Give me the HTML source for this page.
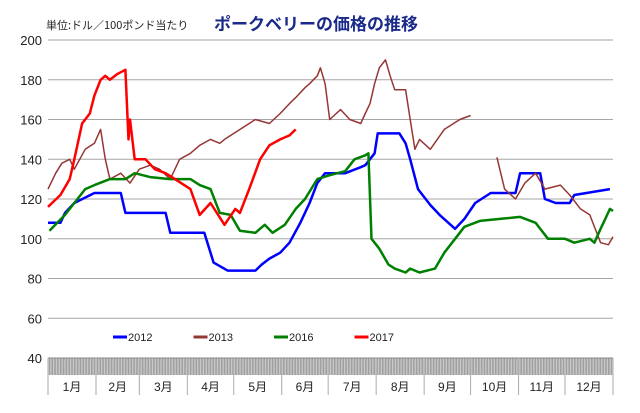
<!DOCTYPE html>
<html><head><meta charset="utf-8"><style>
body{margin:0;background:#fff;width:640px;height:408px;overflow:hidden;font-family:"Liberation Sans","Noto Sans CJK JP",sans-serif}
</style></head><body>
<svg id="chart" width="640" height="408" xmlns="http://www.w3.org/2000/svg" font-family="Liberation Sans, Noto Sans CJK JP, sans-serif">
<text x="316" y="30" text-anchor="middle" font-size="17" font-weight="bold" fill="#1a2a8a" font-family="Noto Sans CJK JP, sans-serif">ポークベリーの価格の推移</text>
<text x="46" y="29" font-size="11" fill="#222" font-family="Noto Sans CJK JP, sans-serif">単位:ドル／100ポンド当たり</text>
<rect x="48" y="358" width="565" height="17" fill="#d4d4d4"/>
<g id="grid"></g><g id="ticks"></g><g id="series"></g><g id="legend"></g>
</svg>
<script>
const yTicks=[40,60,80,100,120,140,160,180,200];
const months=["1月","2月","3月","4月","5月","6月","7月","8月","9月","10月","11月","12月"];
const monthStart=[0,31,59,90,120,151,181,212,243,273,304,334,365];
const seriesNames=["2012","2013","2016","2017"];
const seriesColors=["#0000ff","#953735","#008000","#ff0000"];
const days2012=[0,8,11,17,30,47,50,76,79,101,107,116,134,138,143,150,156,163,169,174,179,192,202,205,211,213,227,231,234,239,247,253,263,269,276,286,302,305,318,321,328,337,340,363];
const vals2012=[108,108,113,118,123,123,113,113,103,103,88,84,84,87,90,93,98,108,118,128,133,133,136,137,143,153,153,148,140,125,117,112,105,110,118,123,123,133,133,120,118,118,122,125];
const days2013=[0,5,9,14,17,24,30,34,37,40,47,53,59,66,72,79,85,92,98,105,111,114,134,143,150,156,160,166,169,174,176,179,182,189,195,202,205,208,211,214,218,221,224,231,234,237,240,247,256,266,273,280,290,295,302,308,315,321,331,337,344,350,357,362,365];
const vals2013=[125,133,138,140,135,145,148,155,140,130,133,128,135,137,135,130,140,143,147,150,148,150,160,158,163,168,171,176,178,182,186,178,160,165,160,158,163,168,178,186,190,182,175,175,160,145,150,145,155,160,162,null,141,125,120,128,133,125,127,122,115,112,98,97,101];
const days2016=[1,6,11,14,24,30,40,50,56,66,79,92,98,105,111,118,124,134,140,145,153,160,166,174,182,192,198,205,207,209,214,220,224,231,234,240,250,256,263,269,279,292,305,315,318,323,334,340,350,353,357,360,363,365];
const vals2016=[104,108,112,115,125,127,130,130,133,131,130,130,127,125,113,112,104,103,107,103,107,115,120,130,132,134,140,142,143,100,95,87,85,83,85,83,85,93,100,106,109,110,111,108,105,100,100,98,100,98,105,110,115,114];
const days2017=[0,8,14,17,22,27,30,34,37,40,45,50,52,53,56,63,69,76,82,92,98,105,114,121,124,130,137,143,150,156,160];
const vals2017=[116,122,130,140,158,163,172,180,182,180,183,185,150,160,140,140,135,133,130,125,112,118,107,115,113,125,140,147,150,152,155];
const allDays=[days2012,days2013,days2016,days2017];
const allVals=[vals2012,vals2013,vals2016,vals2017];
const X0=48,X1=613,Y40=358,PX=1.9875;
const xs=d=>X0+d*(X1-X0)/365;
const ys=v=>Y40-(v-40)*PX;
const NS="http://www.w3.org/2000/svg";
function mk(tag,parent){const e=document.createElementNS(NS,tag);parent.appendChild(e);return e;}
const grid=document.getElementById('grid');
yTicks.forEach(v=>{
 const l=mk('line',grid);
 
 
 l.setAttribute('x1',X0);l.setAttribute('x2',X1);l.setAttribute('y1',ys(v));l.setAttribute('y2',ys(v));
 l.setAttribute('stroke',v==40?'#888':'#a6a6a6');l.setAttribute('stroke-width','1');
 const t=mk('text',grid);
 
 
 t.setAttribute('x',X0-6);t.setAttribute('y',ys(v)+5);t.setAttribute('text-anchor','end');t.setAttribute('font-size','13');t.setAttribute('fill','#222');
 t.textContent=v;
});
const ticks=document.getElementById('ticks');
for(let d=0;d<=365;d++){
 const l=mk('line',ticks);
 
 
 l.setAttribute('x1',xs(d));l.setAttribute('x2',xs(d));l.setAttribute('y1',Y40);l.setAttribute('y2',375);
 l.setAttribute('stroke','#8a8a8a');l.setAttribute('stroke-width','0.7');
}
monthStart.forEach(d=>{
 const l=mk('line',ticks);
 
 
 l.setAttribute('x1',xs(d));l.setAttribute('x2',xs(d));l.setAttribute('y1',Y40);l.setAttribute('y2',395);
 l.setAttribute('stroke','#aaa');l.setAttribute('stroke-width','1');
});
months.forEach((m,i)=>{
 const t=mk('text',ticks);
 
 
 t.setAttribute('x',(xs(monthStart[i])+xs(monthStart[i+1]))/2);t.setAttribute('y',391);t.setAttribute('text-anchor','middle');t.setAttribute('font-size','12');t.setAttribute('fill','#222');
 t.textContent=m;
});
const sg=document.getElementById('series');
allDays.forEach((days,s)=>{
 const vals=allVals[s];let d='',pen=false;
 days.forEach((dd,i)=>{const v=vals[i];if(v==null){pen=false;return;}d+=(pen?'L':'M')+xs(dd).toFixed(1)+','+ys(v).toFixed(1);pen=true;});
 const p=mk('path',sg);
 
 
 p.setAttribute('d',d);p.setAttribute('fill','none');p.setAttribute('stroke',seriesColors[s]);
 p.setAttribute('stroke-width',s==1?'1.5':'2.5');p.setAttribute('stroke-linejoin','round');
});
const lg=document.getElementById('legend');
seriesNames.forEach((n,i)=>{
 const x=113+i*80.5;
 const l=mk('line',lg);
 
 
 l.setAttribute('x1',x);l.setAttribute('x2',x+14);l.setAttribute('y1',337);l.setAttribute('y2',337);
 l.setAttribute('stroke',seriesColors[i]);l.setAttribute('stroke-width','3');
 const t=mk('text',lg);
 
 
 t.setAttribute('x',x+15);t.setAttribute('y',341);t.setAttribute('font-size','11');t.setAttribute('fill','#222');
 t.textContent=n;
});
</script>
</body></html>
